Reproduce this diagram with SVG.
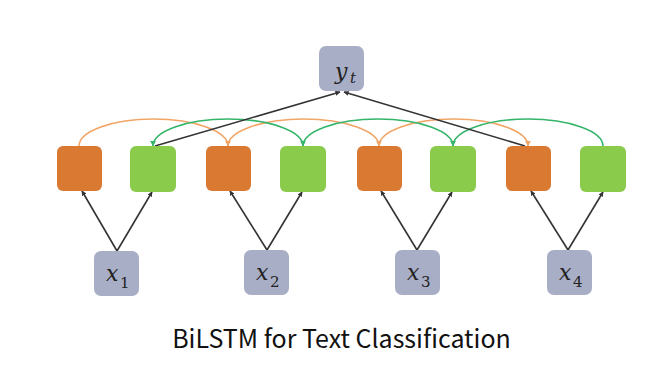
<svg xmlns="http://www.w3.org/2000/svg" width="660" height="366" viewBox="0 0 660 366">
<defs>
<style>
.fwd{fill:#DA7A32}
.bwd{fill:#8ACB4B}
.io{fill:#A8AEC5}
.arc-o{fill:none;stroke:#F1A567;stroke-width:1.6}
.arc-g{fill:none;stroke:#35B56A;stroke-width:1.6}
.blk{fill:none;stroke:#333;stroke-width:1.6}
.math{font-family:"DejaVu Serif","Liberation Serif",serif;font-style:italic;fill:#222}
.sub{font-family:"DejaVu Serif","Liberation Serif",serif;fill:#222;font-size:15px}
.title{font-family:"Noto Sans CJK SC","Noto Sans",sans-serif;font-size:25px;fill:#111}
</style>
<marker id="ab" viewBox="0 0 10 10" refX="9" refY="5" markerWidth="5" markerHeight="5" orient="auto" markerUnits="userSpaceOnUse"><path d="M0,0L10,5L0,10z" fill="#333"/></marker>
<marker id="ao" viewBox="0 0 10 10" refX="9" refY="5" markerWidth="6" markerHeight="6" orient="auto" markerUnits="userSpaceOnUse"><path d="M0,0L10,5L0,10z" fill="#F1A567"/></marker>
<marker id="ag" viewBox="0 0 10 10" refX="9" refY="5" markerWidth="6" markerHeight="6" orient="auto" markerUnits="userSpaceOnUse"><path d="M0,0L10,5L0,10z" fill="#35B56A"/></marker>
</defs>
<rect width="660" height="366" fill="#fff"/>
<g id="connectors">
<path class="arc-o" d="M79,146 A74.5 27 0 0 1 228,146" marker-end="url(#ao)"/>
<path class="arc-o" d="M228,146 A75.5 27 0 0 1 379,146" marker-end="url(#ao)"/>
<path class="arc-o" d="M379,146 A74.5 27 0 0 1 528,146" marker-end="url(#ao)"/>
<path class="arc-g" d="M603,146 A75 27 0 0 0 453,146" marker-end="url(#ag)"/>
<path class="arc-g" d="M453,146 A75 27 0 0 0 303,146" marker-end="url(#ag)"/>
<path class="arc-g" d="M303,146 A75 27 0 0 0 153,146" marker-end="url(#ag)"/>
<line class="blk" x1="155" y1="146" x2="340" y2="92" marker-end="url(#ab)"/>
<line class="blk" x1="525" y1="146" x2="344" y2="92" marker-end="url(#ab)"/>
<line class="blk" x1="117" y1="251" x2="82" y2="191" marker-end="url(#ab)"/>
<line class="blk" x1="117" y1="251" x2="152" y2="192" marker-end="url(#ab)"/>
<line class="blk" x1="267" y1="250" x2="230" y2="191" marker-end="url(#ab)"/>
<line class="blk" x1="267" y1="250" x2="302" y2="192" marker-end="url(#ab)"/>
<line class="blk" x1="417" y1="250" x2="381" y2="191" marker-end="url(#ab)"/>
<line class="blk" x1="417" y1="250" x2="452" y2="192" marker-end="url(#ab)"/>
<line class="blk" x1="568" y1="250" x2="531" y2="191" marker-end="url(#ab)"/>
<line class="blk" x1="568" y1="250" x2="603" y2="192" marker-end="url(#ab)"/>
</g>
<g id="yt"><rect class="io" x="319" y="46" width="45" height="45" rx="7"/><text class="math" x="335" y="79" font-size="22">y</text><text class="math" x="350" y="83" font-size="15">t</text></g>
<g id="f1"><rect class="fwd" x="57" y="146" width="45" height="45" rx="6"/></g>
<g id="b1"><rect class="bwd" x="130" y="146" width="46" height="46" rx="6"/></g>
<g id="f2"><rect class="fwd" x="206" y="146" width="45" height="45" rx="6"/></g>
<g id="b2"><rect class="bwd" x="280" y="146" width="46" height="46" rx="6"/></g>
<g id="f3"><rect class="fwd" x="357" y="146" width="45" height="45" rx="6"/></g>
<g id="b3"><rect class="bwd" x="430" y="146" width="46" height="46" rx="6"/></g>
<g id="f4"><rect class="fwd" x="506" y="146" width="45" height="45" rx="6"/></g>
<g id="b4"><rect class="bwd" x="580" y="146" width="46" height="46" rx="6"/></g>
<g id="x1"><rect class="io" x="94" y="251" width="45" height="45" rx="7"/><text class="math" x="106" y="281" font-size="22">x</text><text class="sub" x="120" y="288">1</text></g>
<g id="x2"><rect class="io" x="244" y="250" width="45" height="45" rx="7"/><text class="math" x="256" y="280" font-size="22">x</text><text class="sub" x="270" y="287">2</text></g>
<g id="x3"><rect class="io" x="395" y="250" width="45" height="45" rx="7"/><text class="math" x="407" y="280" font-size="22">x</text><text class="sub" x="421" y="287">3</text></g>
<g id="x4"><rect class="io" x="547" y="250" width="45" height="45" rx="7"/><text class="math" x="559" y="280" font-size="22">x</text><text class="sub" x="573" y="287">4</text></g>
<text class="title" x="341.5" y="348" text-anchor="middle">BiLSTM for Text Classification</text>
</svg>
